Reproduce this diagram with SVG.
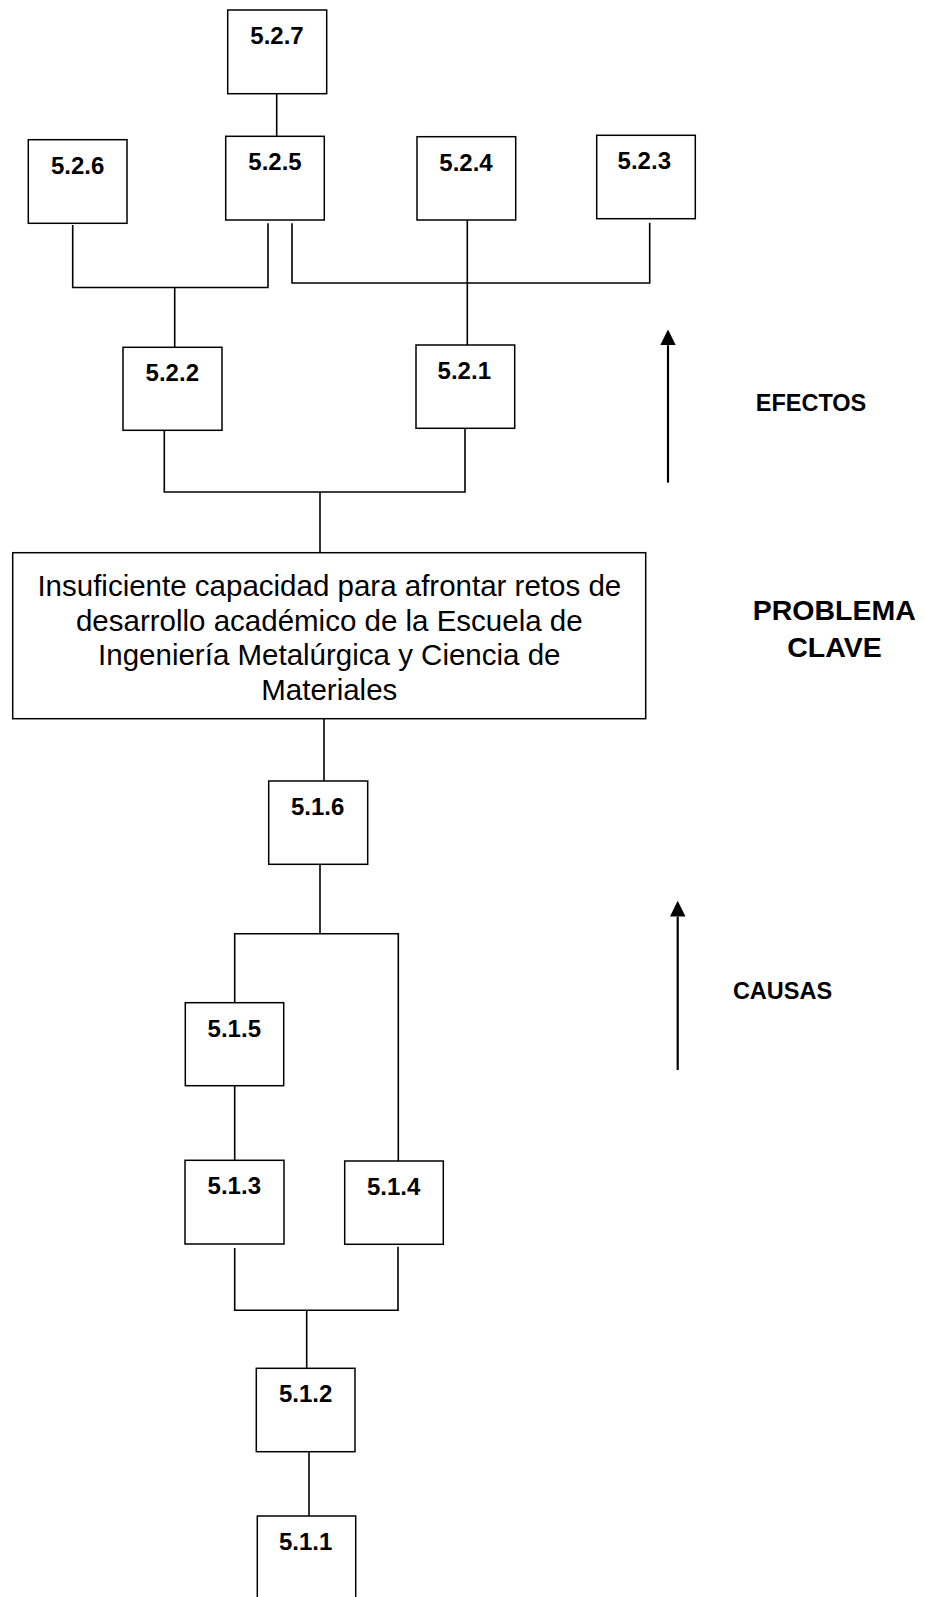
<svg xmlns="http://www.w3.org/2000/svg" width="926" height="1597" viewBox="0 0 926 1597">
<style>
.box{fill:#fff;stroke:#000;stroke-width:1.5}
.lbl{font-family:"Liberation Sans",Arial,sans-serif;font-weight:bold;font-size:24px;text-anchor:middle;fill:#000}
.big{font-family:"Liberation Sans",Arial,sans-serif;font-size:29.5px;text-anchor:middle;fill:#000}
.side{font-family:"Liberation Sans",Arial,sans-serif;font-weight:bold;font-size:23.5px;text-anchor:middle;fill:#000}
.side2{font-family:"Liberation Sans",Arial,sans-serif;font-weight:bold;font-size:28.5px;text-anchor:middle;fill:#000}
.con{fill:none;stroke:#000;stroke-width:1.6}
.arr{fill:none;stroke:#000;stroke-width:2.2}
</style>
<defs>
<marker id="ah" markerUnits="userSpaceOnUse" viewBox="0 0 16 16" refX="0" refY="7.8" markerWidth="16" markerHeight="16" orient="auto">
<path d="M0,0 L15.8,7.8 L0,15.6 z" fill="#000"/>
</marker>
</defs>
<rect width="926" height="1597" fill="#fff"/>
<g id="connectors">
<path class="con" d="M276.7,93.7 V136.3"/>
<path class="con" d="M72.7,225 V287.5 H268 V223.3"/>
<path class="con" d="M174.7,287.5 V347.3"/>
<path class="con" d="M292,223.3 V283 H649.7 V222.7"/>
<path class="con" d="M467.3,220 V345"/>
<path class="con" d="M164.3,430.3 V492 H465 V428.3"/>
<path class="con" d="M320,492 V552.7"/>
<path class="con" d="M324,718.3 V781"/>
<path class="con" d="M320,864.3 V933.7"/>
<path class="con" d="M234.7,1002.7 V933.7 H398.3 V1161"/>
<path class="con" d="M234.7,1085.7 V1160.3"/>
<path class="con" d="M234.7,1248 V1310.3 H398 V1246.7"/>
<path class="con" d="M306.7,1310.3 V1368.3"/>
<path class="con" d="M309,1451.7 V1516"/>
<path class="arr" d="M668,482.7 V345.2" marker-end="url(#ah)"/>
<path class="arr" d="M677.7,1070 V916.6" marker-end="url(#ah)"/>
</g>
<g id="n527"><rect class="box" x="227.7" y="10" width="99" height="83.7"/><text class="lbl" x="277" y="44.3">5.2.7</text></g>
<g id="n526"><rect class="box" x="28.3" y="139.7" width="98.7" height="83.6"/><text class="lbl" x="77.7" y="173.7">5.2.6</text></g>
<g id="n525"><rect class="box" x="225.7" y="136.3" width="98.6" height="83.7"/><text class="lbl" x="275" y="170">5.2.5</text></g>
<g id="n524"><rect class="box" x="417" y="136.7" width="98.7" height="83.3"/><text class="lbl" x="466" y="170.7">5.2.4</text></g>
<g id="n523"><rect class="box" x="596.7" y="135.3" width="98.6" height="83.4"/><text class="lbl" x="644.3" y="169">5.2.3</text></g>
<g id="n522"><rect class="box" x="123" y="347.3" width="99" height="83"/><text class="lbl" x="172.3" y="380.7">5.2.2</text></g>
<g id="n521"><rect class="box" x="416" y="345" width="98.7" height="83.3"/><text class="lbl" x="464.3" y="379">5.2.1</text></g>
<g id="problema">
<rect class="box" x="12.7" y="552.7" width="633" height="166"/>
<text class="big" x="329.3" y="595.8">Insuficiente capacidad para afrontar retos de</text>
<text class="big" x="329.3" y="630.5">desarrollo académico de la Escuela de</text>
<text class="big" x="329.3" y="665.2">Ingeniería Metalúrgica y Ciencia de</text>
<text class="big" x="329.3" y="699.9">Materiales</text>
</g>
<g id="n516"><rect class="box" x="268.7" y="781" width="99" height="83.3"/><text class="lbl" x="317.7" y="815">5.1.6</text></g>
<g id="n515"><rect class="box" x="185.3" y="1002.7" width="98.4" height="83"/><text class="lbl" x="234.3" y="1036.7">5.1.5</text></g>
<g id="n513"><rect class="box" x="185" y="1160.3" width="99" height="83.7"/><text class="lbl" x="234.3" y="1194">5.1.3</text></g>
<g id="n514"><rect class="box" x="344.7" y="1161" width="98.6" height="83.3"/><text class="lbl" x="393.7" y="1195">5.1.4</text></g>
<g id="n512"><rect class="box" x="256.3" y="1368.3" width="98.7" height="83.4"/><text class="lbl" x="305.7" y="1401.7">5.1.2</text></g>
<g id="n511"><rect class="box" x="257.3" y="1516" width="98.4" height="100"/><text class="lbl" x="305.7" y="1550">5.1.1</text></g>
<g id="labels">
<text class="side" x="811" y="410.7">EFECTOS</text>
<text class="side2" x="834.2" y="620">PROBLEMA</text>
<text class="side2" x="834.5" y="657.3">CLAVE</text>
<text class="side" x="782.5" y="999.3">CAUSAS</text>
</g>
</svg>
